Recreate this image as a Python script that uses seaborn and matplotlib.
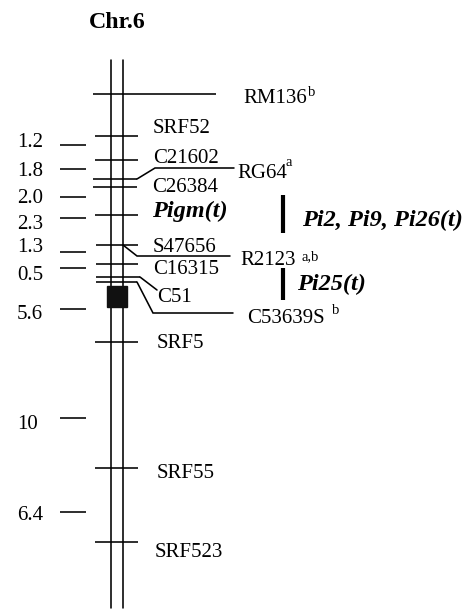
import matplotlib
matplotlib.use("Agg")
import matplotlib.pyplot as plt
import seaborn as sns
import pandas as pd

# ---------------- data ----------------
title = "Chr.6"
marker_names = ["RM136", "SRF52", "C21602", "RG64", "C26384", "Pigm(t)", "S47656",
                "R2123", "C16315", "C51", "C53639S", "SRF5", "SRF55", "SRF523"]
# map position of each marker (drawing units, top = 0)
marker_pos = [94, 136, 160, 179, 187, 215, 245, 245, 264, 277, 282, 342, 468, 542]
marker_sup = ["b", "", "", "a", "", "", "", "a,b", "", "", "b", "", "", ""]
interval_labels = ["1.2", "1.8", "2.0", "2.3", "1.3", "0.5", "5.6", "10", "6.4"]
interval_pos = [145, 169, 197, 218, 252, 268, 309, 418, 512]
gene_labels = ["Pi2, Pi9, Pi26(t)", "Pi25(t)"]
gene_top = [195, 268]
gene_bottom = [233, 300]
chrom_top, chrom_bottom = 60, 608
centromere = (286, 307)

# ---------------- style ----------------
sns.set_theme(style="white", rc={"text.color": "black"})
plt.rcParams["font.family"] = ["Liberation Serif", "DejaVu Serif"]

W, H = 471, 610
fig = plt.figure(figsize=(W / 100, H / 100), dpi=100)
ax = fig.add_axes([0, 0, 1, 1])
ax.set_xlim(0, W)
ax.set_ylim(H, 0)
ax.axis("off")

LW = 1.15
FS = 15
FSB = 17.5
FSS = 10.5

# chromosome rails
rails = pd.DataFrame({
    "x": [111, 111, 122.5, 122.5],
    "y": [chrom_top, chrom_bottom, chrom_top, chrom_bottom],
    "rail": ["l", "l", "r", "r"],
})
sns.lineplot(data=rails, x="x", y="y", units="rail", estimator=None,
             color="black", lw=LW, ax=ax, sort=False, legend=False)

# centromere block
ax.add_patch(plt.Rectangle((107, centromere[0]), 20, centromere[1] - centromere[0],
                           color="#111111", zorder=3))

# layout of each marker
layout = {
    "RM136":   dict(x0=93, x1=216, path=None, lx=243, ly=103, sx=308, sy=96),
    "SRF52":   dict(x0=95, x1=138, path=None, lx=153, ly=133),
    "C21602":  dict(x0=95, x1=138, path=None, lx=153, ly=163),
    "RG64":    dict(x0=93, x1=137, path=[(137, 0), (155, -11), (234, -11)], lx=237, ly=178, sx=286, sy=166),
    "C26384":  dict(x0=93, x1=137, path=None, lx=152, ly=192),
    "Pigm(t)": dict(x0=95, x1=138, path=None, lx=152, ly=217, bold=True),
    "S47656":  dict(x0=96, x1=138, path=None, lx=153, ly=252),
    "R2123":   dict(x0=None, x1=123, path=[(123, 0), (137, 11), (230, 11)], lx=240, ly=265, sx=302, sy=260),
    "C16315":  dict(x0=96, x1=138, path=None, lx=153, ly=274),
    "C51":     dict(x0=96, x1=140, path=[(140, 0), (157, 13)], lx=157, ly=302),
    "C53639S": dict(x0=96, x1=137, path=[(137, 0), (153, 31), (233, 31)], lx=247, ly=323, sx=332, sy=314),
    "SRF5":    dict(x0=95, x1=138, path=None, lx=157, ly=348),
    "SRF55":   dict(x0=95, x1=138, path=None, lx=157, ly=478),
    "SRF523":  dict(x0=95, x1=138, path=None, lx=155, ly=557),
}

for name, pos, sup in zip(marker_names, marker_pos, marker_sup):
    L = layout[name]
    if L["x0"] is not None:
        ax.plot([L["x0"], L["x1"]], [pos, pos], color="black", lw=LW, solid_capstyle="butt")
    if L["path"]:
        xs = [p[0] for p in L["path"]]
        ys = [pos + p[1] for p in L["path"]]
        ax.plot(xs, ys, color="black", lw=LW, solid_joinstyle="miter")
    if L.get("bold"):
        ax.text(L["lx"], L["ly"], name, fontsize=FSB, fontweight="bold", fontstyle="italic",
                va="baseline", ha="left", color="black")
    else:
        ax.text(L["lx"], L["ly"], name, fontsize=FS, va="baseline", ha="left", color="black")
    if sup:
        ax.text(L["sx"], L["sy"], sup, fontsize=FSS, va="baseline", ha="left", color="black")

# interval distances on the left
num_base = [147, 176, 203, 229, 252, 280, 319, 429, 520]
for lab, pos, base in zip(interval_labels, interval_pos, num_base):
    ax.plot([60, 86], [pos, pos], color="black", lw=LW, solid_capstyle="butt")
    ax.text(17, base, lab, fontsize=FS, va="baseline", ha="left", color="black")

# resistance gene bars
gene_text = [(302, 226), (297, 290)]
for lab, t, b, (tx, ty) in zip(gene_labels, gene_top, gene_bottom, gene_text):
    ax.plot([283, 283], [t, b], color="black", lw=3.0, solid_capstyle="butt")
    ax.text(tx, ty, lab, fontsize=FSB, fontweight="bold", fontstyle="italic",
            va="baseline", ha="left", color="black")

# title
ax.text(117.5, 28, title, fontsize=17.2, fontweight="bold", va="baseline", ha="center",
        color="black")

fig.savefig("out.png", dpi=100)
